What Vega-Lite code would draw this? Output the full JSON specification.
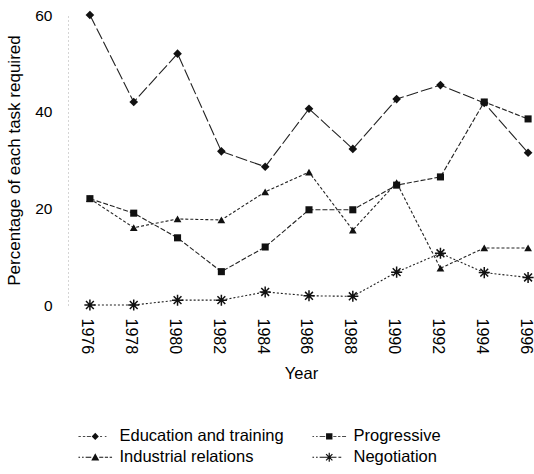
{
  "$schema": "https://vega.github.io/schema/vega-lite/v6.json",
  "width": 466,
  "height": 290,
  "autosize": "none",
  "padding": {"left": 68, "top": 15, "right": 0, "bottom": 169},
  "background": "white",
  "config": {
    "view": {"stroke": null},
    "font": "Liberation Sans",
    "axis": {"grid": false, "labelColor": "#000", "titleColor": "#000", "labelFont": "Liberation Sans", "titleFont": "Liberation Sans", "titleFontWeight": "normal"},
    "legend": {"labelFont": "Liberation Sans", "labelColor": "#000"}
  },
  "data": {
    "values": [
      {"year": 1976, "series": "Education and training", "value": 60},
      {"year": 1978, "series": "Education and training", "value": 42},
      {"year": 1980, "series": "Education and training", "value": 52},
      {"year": 1982, "series": "Education and training", "value": 31.8},
      {"year": 1984, "series": "Education and training", "value": 28.6},
      {"year": 1986, "series": "Education and training", "value": 40.6},
      {"year": 1988, "series": "Education and training", "value": 32.3},
      {"year": 1990, "series": "Education and training", "value": 42.6},
      {"year": 1992, "series": "Education and training", "value": 45.5},
      {"year": 1994, "series": "Education and training", "value": 41.8},
      {"year": 1996, "series": "Education and training", "value": 31.5},
      {"year": 1976, "series": "Progressive", "value": 22},
      {"year": 1978, "series": "Progressive", "value": 19},
      {"year": 1980, "series": "Progressive", "value": 13.9},
      {"year": 1982, "series": "Progressive", "value": 6.9},
      {"year": 1984, "series": "Progressive", "value": 12},
      {"year": 1986, "series": "Progressive", "value": 19.7},
      {"year": 1988, "series": "Progressive", "value": 19.7},
      {"year": 1990, "series": "Progressive", "value": 24.8},
      {"year": 1992, "series": "Progressive", "value": 26.5},
      {"year": 1994, "series": "Progressive", "value": 42},
      {"year": 1996, "series": "Progressive", "value": 38.5},
      {"year": 1976, "series": "Industrial relations", "value": 22},
      {"year": 1978, "series": "Industrial relations", "value": 16},
      {"year": 1980, "series": "Industrial relations", "value": 17.8},
      {"year": 1982, "series": "Industrial relations", "value": 17.6},
      {"year": 1984, "series": "Industrial relations", "value": 23.4},
      {"year": 1986, "series": "Industrial relations", "value": 27.5},
      {"year": 1988, "series": "Industrial relations", "value": 15.5},
      {"year": 1990, "series": "Industrial relations", "value": 25.3},
      {"year": 1992, "series": "Industrial relations", "value": 7.6},
      {"year": 1994, "series": "Industrial relations", "value": 11.8},
      {"year": 1996, "series": "Industrial relations", "value": 11.8},
      {"year": 1976, "series": "Negotiation", "value": 0},
      {"year": 1978, "series": "Negotiation", "value": 0},
      {"year": 1980, "series": "Negotiation", "value": 1},
      {"year": 1982, "series": "Negotiation", "value": 1},
      {"year": 1984, "series": "Negotiation", "value": 2.7},
      {"year": 1986, "series": "Negotiation", "value": 1.9},
      {"year": 1988, "series": "Negotiation", "value": 1.8},
      {"year": 1990, "series": "Negotiation", "value": 6.8},
      {"year": 1992, "series": "Negotiation", "value": 10.7},
      {"year": 1994, "series": "Negotiation", "value": 6.7},
      {"year": 1996, "series": "Negotiation", "value": 5.7}
    ]
  },
  "encoding": {
    "x": {
      "field": "year", "type": "quantitative",
      "scale": {"domain": [1975, 1996.27], "nice": false, "zero": false},
      "axis": {
        "title": "Year", "values": [1976, 1978, 1980, 1982, 1984, 1986, 1988, 1990, 1992, 1994, 1996],
        "format": "d", "labelAngle": 90, "labelFontSize": 16, "labelPadding": 13, "labelOffset": -3,
        "domain": false, "ticks": false, "titleFontSize": 16.5, "titlePadding": 12, "labelFlush": false, "labelOverlap": false
      }
    },
    "y": {
      "field": "value", "type": "quantitative",
      "scale": {"domain": [0, 60], "nice": false},
      "axis": {
        "title": "Percentage of each task required", "values": [0, 20, 40, 60],
        "labelFontSize": 15.5, "labelPadding": 16, "ticks": false,
        "domain": true, "domainColor": "#aaa", "domainDash": [1, 3], "domainWidth": 1,
        "titleFontSize": 17, "titlePadding": 11, "labelFlush": false
      }
    }
  },
  "layer": [
    {
      "mark": {"type": "line", "color": "#222", "strokeWidth": 1.1},
      "encoding": {
        "strokeDash": {
          "field": "series", "type": "nominal",
          "scale": {"domain": ["Education and training", "Progressive", "Industrial relations", "Negotiation"],
                    "range": [[12, 3], [5, 2], [3, 2], [2, 2]]},
          "legend": null
        }
      }
    },
    {
      "transform": [{"filter": "datum.series === 'Education and training'"}],
      "mark": {"type": "point", "shape": "diamond", "filled": true, "color": "#111", "size": 75, "opacity": 1}
    },
    {
      "transform": [{"filter": "datum.series === 'Progressive'"}],
      "mark": {"type": "point", "shape": "square", "filled": true, "color": "#111", "size": 50, "opacity": 1}
    },
    {
      "transform": [{"filter": "datum.series === 'Industrial relations'"}],
      "mark": {"type": "point", "shape": "triangle-up", "filled": true, "color": "#111", "size": 60, "opacity": 1}
    },
    {
      "transform": [{"filter": "datum.series === 'Negotiation'"}],
      "mark": {"type": "point", "shape": "M-0.85,0L0.85,0M0,-0.85L0,0.85M-0.6,-0.6L0.6,0.6M-0.6,0.6L0.6,-0.6", "filled": false, "color": "#111", "strokeWidth": 1.5, "size": 170, "opacity": 1}
    },
    {
      "transform": [{"filter": "datum.year < 0"}],
      "mark": {"type": "point", "filled": true, "color": "#111", "size": 64, "opacity": 1},
      "encoding": {
        "shape": {
          "field": "series", "type": "nominal",
          "scale": {"domain": ["Education and training", "Progressive", "Industrial relations", "Negotiation"],
                    "range": [
                      "M-4.2,-0.1L-3.6,-0.1L-3.6,0.1L-4.2,0.1ZM-3.1,-0.1L-2.5,-0.1L-2.5,0.1L-3.1,0.1ZM-2.1,-0.1L-1.1,-0.1L-1.1,0.1L-2.1,0.1ZM0,-0.9L0.9,0L0,0.9L-0.9,0ZM1.2,-0.1L1.7,-0.1L1.7,0.1L1.2,0.1ZM2.4,-0.1L2.8,-0.1L2.8,0.1L2.4,0.1Z",
                      "M-4.2,-0.1L-3.8,-0.1L-3.8,0.1L-4.2,0.1ZM-3.3,-0.1L-2.9,-0.1L-2.9,0.1L-3.3,0.1ZM-2.4,-0.1L-1,-0.1L-1,0.1L-2.4,0.1ZM-0.8,-0.8L0.8,-0.8L0.8,0.8L-0.8,0.8ZM1,-0.1L1.8,-0.1L1.8,0.1L1,0.1ZM2.2,-0.1L2.8,-0.1L2.8,0.1L2.2,0.1ZM3.2,-0.1L4.2,-0.1L4.2,0.1L3.2,0.1Z",
                      "M-4.2,-0.1L-3.8,-0.1L-3.8,0.1L-4.2,0.1ZM-3.3,-0.1L-2.9,-0.1L-2.9,0.1L-3.3,0.1ZM-2.4,-0.1L-1,-0.1L-1,0.1L-2.4,0.1ZM0,-1L1,0.8L-1,0.8ZM1,-0.1L2,-0.1L2,0.1L1,0.1ZM2.4,-0.1L3.2,-0.1L3.2,0.1L2.4,0.1ZM3.6,-0.1L4.2,-0.1L4.2,0.1L3.6,0.1Z",
                      "M-4.2,-0.1L-3.8,-0.1L-3.8,0.1L-4.2,0.1ZM-3.3,-0.1L-2.9,-0.1L-2.9,0.1L-3.3,0.1ZM-2.4,-0.1L-1.1,-0.1L-1.1,0.1L-2.4,0.1ZM-1.1,-0.15L1.1,-0.15L1.1,0.15L-1.1,0.15ZM-0.15,-1.1L0.15,-1.1L0.15,1.1L-0.15,1.1ZM-0.68,-0.9L0.9,0.68L0.68,0.9L-0.9,-0.68ZM-0.9,0.68L0.68,-0.9L0.9,-0.68L-0.68,0.9ZM1.1,-0.1L1.8,-0.1L1.8,0.1L1.1,0.1ZM2.3,-0.1L3,-0.1L3,0.1L2.3,0.1Z"
                    ]},
          "legend": {
            "title": null, "orient": "none", "legendX": 19, "legendY": 413,
            "direction": "horizontal", "columns": 2, "columnPadding": 28, "rowPadding": 4,
            "symbolSize": 64, "symbolStrokeWidth": 0, "symbolFillColor": "#111", "symbolOpacity": 1,
            "labelFontSize": 16.5, "labelOffset": 16, "labelLimit": 300, "padding": 0
          }
        }
      }
    }
  ],
  "resolve": {"scale": {"shape": "independent"}}
}
